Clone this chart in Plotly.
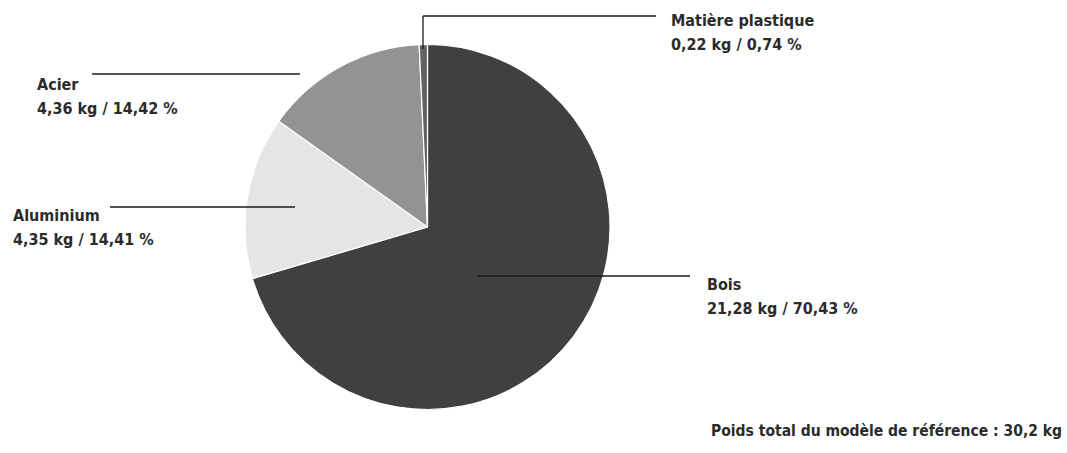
import plotly.graph_objects as go

categories = ["Bois", "Aluminium", "Acier", "Matière plastique"]
weights_kg = [21.28, 4.35, 4.36, 0.22]
percent_labels = ["70,43 %", "14,41 %", "14,42 %", "0,74 %"]
weight_labels = ["21,28 kg", "4,35 kg", "4,36 kg", "0,22 kg"]
colors = ["#404040", "#e5e5e7", "#939396", "#626262"]
total_label = "Poids total du modèle de référence : 30,2 kg"

W, H = 1067, 453
FONT = "DejaVu Sans Condensed, Liberation Sans Narrow, Arial Narrow, sans-serif"
TXT = "#2b2b2b"

def px(x):
    return x / W

def py(y):
    return 1 - y / H

cx, cy, r = 427.5, 227, 182.5

fig = go.Figure(go.Pie(
    labels=categories, values=weights_kg, sort=False, direction="clockwise",
    rotation=0, textinfo="none", hoverinfo="label+value+percent",
    marker=dict(colors=colors, line=dict(color="white", width=1.2)),
    domain=dict(x=[px(cx - r), px(cx + r)], y=[py(cy + r), py(cy - r)]),
    showlegend=False,
))

# label placement: (text x, first-line y, anchor, leader polyline points)
label_cfg = {
    "Matière plastique": (669, 20, "left", [(423, 49), (423, 16), (656, 16)]),
    "Acier": (35, 84, "left", [(92, 74), (300, 74)]),
    "Aluminium": (11, 215, "left", [(110, 207), (295, 207)]),
    "Bois": (705, 284, "left", [(477, 276), (690, 276)]),
}

shapes = []
annotations = []
for i, cat in enumerate(categories):
    tx, ty, anchor, pts = label_cfg[cat]
    for (x0, y0), (x1, y1) in zip(pts[:-1], pts[1:]):
        shapes.append(dict(type="line", xref="paper", yref="paper",
                           x0=px(x0), y0=py(y0), x1=px(x1), y1=py(y1),
                           line=dict(color="#1a1a1a", width=1.3)))
    annotations.append(dict(text="<b>" + cat + "</b>", x=px(tx), y=py(ty),
                            xref="paper", yref="paper", xanchor=anchor, yanchor="middle",
                            showarrow=False, font=dict(family=FONT, size=16, color=TXT)))
    annotations.append(dict(text="<b>" + weight_labels[i] + " / " + percent_labels[i] + "</b>",
                            x=px(tx), y=py(ty + 24), xref="paper", yref="paper",
                            xanchor=anchor, yanchor="middle", showarrow=False,
                            font=dict(family=FONT, size=16, color=TXT)))

annotations.append(dict(text="<b>" + total_label + "</b>", x=px(1064), y=py(431),
                        xref="paper", yref="paper", xanchor="right", yanchor="middle",
                        showarrow=False, font=dict(family=FONT, size=15.5, color=TXT)))

fig.update_layout(width=W, height=H, margin=dict(l=0, r=0, t=0, b=0),
                  paper_bgcolor="white", plot_bgcolor="white",
                  shapes=shapes, annotations=annotations)
fig.write_html("out.html", config={"displayModeBar": False},
               post_script="document.body.style.margin='0';")
